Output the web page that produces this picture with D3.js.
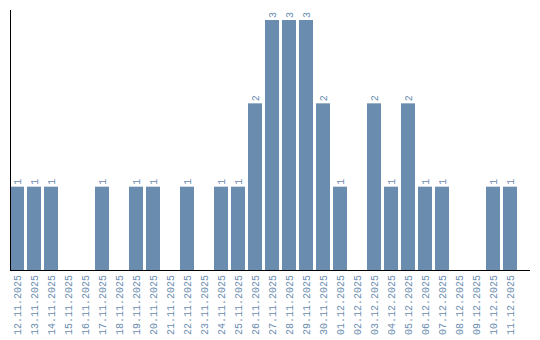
<!DOCTYPE html>
<html>
<head>
<meta charset="utf-8">
<script src="https://cdn.jsdelivr.net/npm/d3@7"></script>
<style>
  body { margin: 0; background: #fff; }
  text { font-family: "Liberation Mono", monospace; font-size: 10px; fill: #6a8caf; }
</style>
</head>
<body>
<svg id="chart" width="540" height="340"></svg>
<script>
const dias = ["12.11.2025","13.11.2025","14.11.2025","15.11.2025","16.11.2025","17.11.2025",
  "18.11.2025","19.11.2025","20.11.2025","21.11.2025","22.11.2025","23.11.2025","24.11.2025",
  "25.11.2025","26.11.2025","27.11.2025","28.11.2025","29.11.2025","30.11.2025","01.12.2025",
  "02.12.2025","03.12.2025","04.12.2025","05.12.2025","06.12.2025","07.12.2025","08.12.2025",
  "09.12.2025","10.12.2025","11.12.2025"];
const valores = [1,1,1,0,0,1,0,1,1,0,1,0,1,1,2,3,3,3,2,1,0,2,1,2,1,1,0,0,1,1];

const svg = d3.select("#chart");
const x0 = 10, baseY = 270;

// passo de 17px, barra de 14px
const x = d3.scaleBand()
    .domain(dias)
    .range([x0, x0 + 17 * dias.length - 3])
    .paddingInner(3 / 17)
    .paddingOuter(0);

const y = d3.scaleLinear().domain([0, 3]).range([baseY, 20]);

const dados = dias.map((d, i) => ({ dia: d, v: valores[i] }));

svg.selectAll(".bar")
    .data(dados.filter(d => d.v > 0))
    .join("rect")
    .attr("class", "bar")
    .attr("x", d => x(d.dia))
    .attr("y", d => y(d.v))
    .attr("width", x.bandwidth())
    .attr("height", d => baseY - y(d.v))
    .attr("fill", "#6a8caf");

svg.selectAll(".val")
    .data(dados.filter(d => d.v > 0))
    .join("text")
    .attr("class", "val")
    .attr("transform", d => `translate(${x(d.dia) + x.bandwidth() / 2},${y(d.v) - 2}) rotate(-90)`)
    .attr("dy", "0.35em")
    .attr("text-anchor", "start")
    .text(d => d.v);

svg.selectAll(".lbl")
    .data(dados)
    .join("text")
    .attr("class", "lbl")
    .attr("transform", d => `translate(${x(d.dia) + x.bandwidth() / 2},${baseY + 5}) rotate(-90)`)
    .attr("dy", "0.35em")
    .attr("text-anchor", "end")
    .text(d => d.dia);

// eixos
svg.append("line")
    .attr("x1", x0).attr("x2", x0)
    .attr("y1", 10).attr("y2", baseY)
    .attr("stroke", "#000").attr("stroke-width", 1)
    .attr("shape-rendering", "crispEdges");
svg.append("line")
    .attr("x1", x0).attr("x2", 530)
    .attr("y1", baseY).attr("y2", baseY)
    .attr("stroke", "#000").attr("stroke-width", 1)
    .attr("shape-rendering", "crispEdges");
</script>
</body>
</html>
